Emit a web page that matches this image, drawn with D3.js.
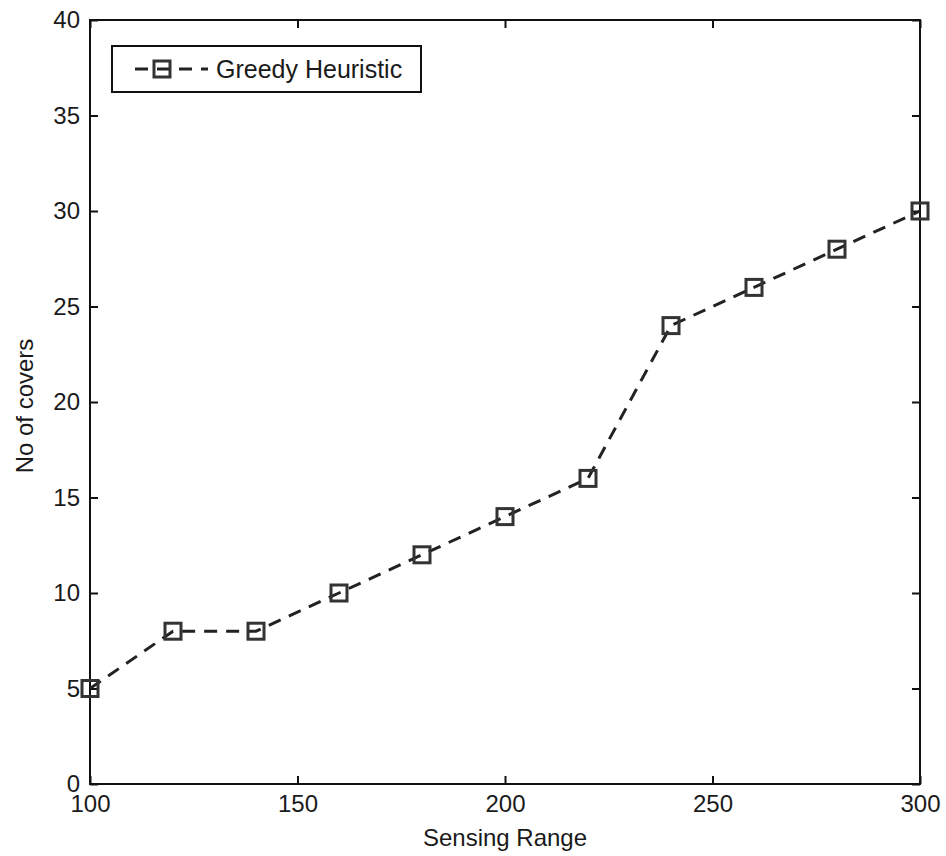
<!DOCTYPE html>
<html>
<head>
<meta charset="utf-8">
<script src="https://cdn.jsdelivr.net/npm/d3@7"></script>
<style>
body{margin:0;background:#fff;}
text{font-family:"Liberation Sans",Arial,sans-serif;fill:#1a1a1a;}
</style>
</head>
<body>
<div id="chart"></div>
<script>
// data
let sensingRange= [100,120,140,160,180,200,220,240,260,280,300];
let covers= [5,8,8,10,12,14,16,24,26,28,30];
let xTicks= [100,150,200,250,300];
let yTicks= [0,5,10,15,20,25,30,35,40];
let seriesName= "Greedy Heuristic";

let width= 946;
let height= 856;
let padL= 90, padR= 920, padT= 20, padB= 784;
let tickLen= 8;

let svg= d3.select("#chart").append("svg")
.attr("width",width).attr("height",height);

let x= d3.scaleLinear().domain([100,300]).range([padL,padR]);
let y= d3.scaleLinear().domain([0,40]).range([padB,padT]);

// box
svg.append("rect")
.attr("x",padL).attr("y",padT)
.attr("width",padR-padL).attr("height",padB-padT)
.attr("fill","none").attr("stroke","#111").attr("stroke-width",2);

// inward ticks on all four sides
let xAxisB= d3.axisBottom(x).tickValues(xTicks).tickSizeInner(-tickLen).tickSizeOuter(0).tickPadding(11);
let xAxisT= d3.axisTop(x).tickValues(xTicks).tickSizeInner(-tickLen).tickSizeOuter(0).tickFormat("");
let yAxisL= d3.axisLeft(y).tickValues(yTicks).tickSizeInner(-tickLen).tickSizeOuter(0).tickPadding(10);
let yAxisR= d3.axisRight(y).tickValues(yTicks).tickSizeInner(-tickLen).tickSizeOuter(0).tickFormat("");

function styleAxis(g){
  g.select(".domain").remove();
  g.selectAll("line").attr("stroke","#111").attr("stroke-width",2);
  g.selectAll("text").attr("font-size",24).attr("font-family","Liberation Sans, Arial, sans-serif").attr("fill","#1a1a1a");
}

svg.append("g").attr("transform","translate(0,"+padB+")").call(xAxisB).call(styleAxis);
svg.append("g").attr("transform","translate(0,"+padT+")").call(xAxisT).call(styleAxis);
svg.append("g").attr("transform","translate("+padL+",0)").call(yAxisL).call(styleAxis);
svg.append("g").attr("transform","translate("+padR+",0)").call(yAxisR).call(styleAxis);

// axis labels
svg.append("text").text("Sensing Range")
.attr("x",(padL+padR)/2).attr("y",846)
.attr("text-anchor","middle").attr("font-size",24);

svg.append("text").text("No of covers")
.attr("transform","translate(33,"+((padT+padB)/2+4)+") rotate(-90)")
.attr("text-anchor","middle").attr("font-size",24);

// series
let line= d3.line().x((d,i)=>x(sensingRange[i])).y(d=>y(d));

svg.append("path")
.datum(covers)
.attr("d",line)
.attr("fill","none")
.attr("stroke","#222")
.attr("stroke-width",3)
.attr("stroke-dasharray","13,9");

let m= 16;
svg.append("g").selectAll("rect")
.data(covers)
.enter()
.append("rect")
.attr("x",(d,i)=>x(sensingRange[i])-m/2)
.attr("y",d=>y(d)-m/2)
.attr("width",m).attr("height",m)
.attr("fill","none")
.attr("stroke","#333")
.attr("stroke-width",3);

// legend
let lg= svg.append("g");
lg.append("rect")
.attr("x",112).attr("y",46).attr("width",309).attr("height",46)
.attr("fill","#fff").attr("stroke","#111").attr("stroke-width",2);
lg.append("line")
.attr("x1",135).attr("x2",208).attr("y1",69).attr("y2",69)
.attr("stroke","#222").attr("stroke-width",3).attr("stroke-dasharray","13,9");
lg.append("rect")
.attr("x",162-m/2).attr("y",69-m/2).attr("width",m).attr("height",m)
.attr("fill","none").attr("stroke","#333").attr("stroke-width",3);
lg.append("text").text(seriesName)
.attr("x",216).attr("y",78).attr("font-size",25);
</script>
</body>
</html>
